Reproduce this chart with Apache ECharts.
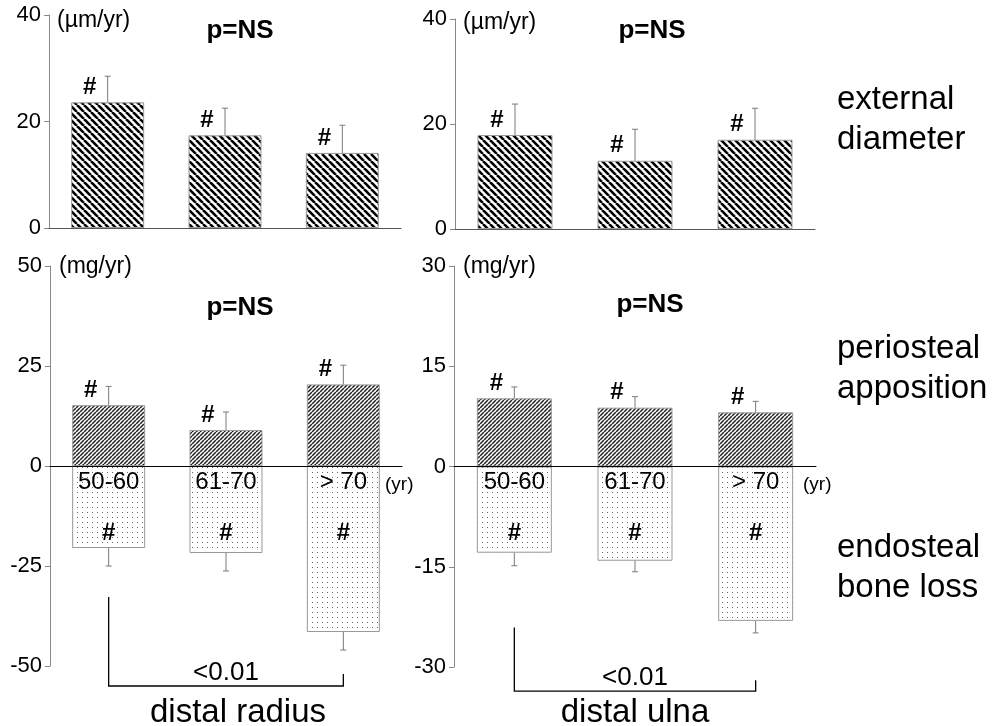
<!DOCTYPE html>
<html>
<head>
<meta charset="utf-8">
<script src="https://cdn.jsdelivr.net/npm/echarts@6/dist/echarts.min.js"></script>
<style>
  html, body { margin: 0; padding: 0; background: #fff; }
  #main { width: 1006px; height: 726px; }
</style>
</head>
<body>
<div id="main"></div>
<script>
// 年龄组
const ageGroups = ['50-60', '61-70', '> 70'];

// 外径 (µm/yr) - 桡骨 / 尺骨
const radiusDiameter = [23.6, 17.4, 14.1];
const radiusDiameterSd = [4.9, 5.1, 5.2];
const ulnaDiameter = [17.9, 13.0, 17.0];
const ulnaDiameterSd = [5.9, 6.0, 6.0];

// 骨膜增加 (mg/yr)
const radiusPeriosteal = [15.2, 9.0, 20.4];
const radiusPeriostealSd = [4.7, 4.5, 4.8];
const ulnaPeriosteal = [10.2, 8.8, 8.1];
const ulnaPeriostealSd = [1.7, 1.65, 1.65];

// 骨内膜丢失 (mg/yr)
const radiusEndosteal = [-20.5, -21.75, -41.5];
const radiusEndostealSd = [4.5, 4.5, 4.5];
const ulnaEndosteal = [-12.9, -14.1, -23.1];
const ulnaEndostealSd = [1.95, 1.65, 1.8];

// 比较括号 (50-60 vs >70), 数值单位
const radiusBracket = { leftTop: -32.75, rightTop: -52, base: -55 };
const ulnaBracket = { leftTop: -24.1, rightTop: -32, base: -33.6 };

const FONT = "'Liberation Sans', Arial, sans-serif";

// 填充图案
function makeTile(size, draw) {
  const c = document.createElement('canvas');
  c.width = size;
  c.height = size;
  const ctx = c.getContext('2d');
  ctx.fillStyle = '#fff';
  ctx.fillRect(0, 0, size, size);
  draw(ctx, size);
  return c;
}

// 宽斜线 "\"
const wideHatch = makeTile(7, (ctx, s) => {
  ctx.strokeStyle = '#000';
  ctx.lineWidth = 2.6;
  for (let k = -1; k <= 1; k++) {
    ctx.beginPath();
    ctx.moveTo(k * s, 0);
    ctx.lineTo(k * s + s, s);
    ctx.stroke();
  }
});

// 密斜线 "/"
const denseHatch = makeTile(4, (ctx, s) => {
  ctx.strokeStyle = '#222';
  ctx.lineWidth = 1.5;
  for (let k = -1; k <= 1; k++) {
    ctx.beginPath();
    ctx.moveTo(k * s, s);
    ctx.lineTo(k * s + s, 0);
    ctx.stroke();
  }
});

// 点
const dots = makeTile(5, (ctx) => {
  ctx.fillStyle = '#666';
  ctx.fillRect(2, 2, 1, 1);
});

function pattern(img) {
  return { image: img, repeat: 'repeat' };
}

// 误差线
function errorSeries(idx, values, sds, sign) {
  return {
    type: 'custom',
    xAxisIndex: idx,
    yAxisIndex: idx,
    z: 3,
    silent: true,
    data: values.map((v, i) => [i, v, sds[i]]),
    renderItem(params, api) {
      const v = api.value(1);
      const e = api.value(2) * sign;
      const p0 = api.coord([api.value(0), v]);
      const p1 = api.coord([api.value(0), v + e]);
      const style = { stroke: '#7a7a7a', lineWidth: 1 };
      return {
        type: 'group',
        children: [
          { type: 'line', shape: { x1: p0[0], y1: p0[1], x2: p1[0], y2: p1[1] }, style },
          { type: 'line', shape: { x1: p1[0] - 3, y1: p1[1], x2: p1[0] + 3, y2: p1[1] }, style }
        ]
      };
    }
  };
}

// 年龄标签 + 负值柱内的 "#"
function ageLabelSeries(idx) {
  return {
    type: 'custom',
    xAxisIndex: idx,
    yAxisIndex: idx,
    z: 10,
    silent: true,
    data: ageGroups.map((g, i) => [i, 0]),
    renderItem(params, api) {
      const p = api.coord([api.value(0), 0]);
      return {
        type: 'group',
        children: [
          {
            type: 'text',
            x: p[0], y: p[1] + 16,
            style: {
              text: ageGroups[params.dataIndex],
              fontFamily: FONT, fontSize: 24, fill: '#000',
              align: 'center', verticalAlign: 'middle'
            }
          },
          {
            type: 'text',
            x: p[0], y: p[1] + 67,
            style: {
              text: '#',
              fontFamily: FONT, fontSize: 24, fontWeight: 'bold', fill: '#000',
              align: 'center', verticalAlign: 'middle'
            }
          }
        ]
      };
    }
  };
}

function barSeries(idx, values, img, width, hashLabel) {
  return {
    type: 'bar',
    xAxisIndex: idx,
    yAxisIndex: idx,
    barWidth: width,
    barGap: '-100%',
    data: values,
    itemStyle: {
      color: pattern(img),
      borderColor: '#999',
      borderWidth: 1
    },
    label: {
      show: hashLabel,
      position: 'top',
      formatter: '#',
      offset: [-18, 2],
      fontFamily: FONT,
      fontWeight: 'bold',
      fontSize: 24,
      color: '#000'
    }
  };
}

const grids = [
  { left: 49, top: 15, width: 352, height: 213 },
  { left: 455, top: 19, width: 360, height: 210 },
  { left: 50, top: 266, width: 352, height: 400 },
  { left: 454, top: 266, width: 362, height: 401 }
].map(g => Object.assign({ outerBoundsMode: 'none', containLabel: false }, g));

const yRanges = [
  { min: 0, max: 40, interval: 20 },
  { min: 0, max: 40, interval: 20 },
  { min: -50, max: 50, interval: 25 },
  { min: -30, max: 30, interval: 15 }
];

const xAxes = grids.map((g, i) => ({
  type: 'category',
  gridIndex: i,
  data: ageGroups,
  z: 10,
  axisLine: { onZero: true, lineStyle: { color: i >= 2 ? '#000' : '#555', width: 1 } },
  axisTick: { show: false },
  axisLabel: { show: false }
}));

const yAxes = yRanges.map((r, i) => ({
  type: 'value',
  gridIndex: i,
  min: r.min,
  max: r.max,
  interval: r.interval,
  splitLine: { show: false },
  axisLine: { show: true, onZero: false, lineStyle: { color: '#888' } },
  axisTick: { show: true, length: 5, lineStyle: { color: '#888' } },
  axisLabel: {
    margin: 8,
    color: '#000',
    fontFamily: FONT,
    fontSize: 22
  }
}));

const series = [
  barSeries(0, radiusDiameter, wideHatch, 73, true),
  errorSeries(0, radiusDiameter, radiusDiameterSd, 1),
  barSeries(1, ulnaDiameter, wideHatch, 75, true),
  errorSeries(1, ulnaDiameter, ulnaDiameterSd, 1),
  barSeries(2, radiusPeriosteal, denseHatch, 73, true),
  barSeries(2, radiusEndosteal, dots, 73, false),
  errorSeries(2, radiusPeriosteal, radiusPeriostealSd, 1),
  errorSeries(2, radiusEndosteal, radiusEndostealSd, -1),
  ageLabelSeries(2),
  barSeries(3, ulnaPeriosteal, denseHatch, 75, true),
  barSeries(3, ulnaEndosteal, dots, 75, false),
  errorSeries(3, ulnaPeriosteal, ulnaPeriostealSd, 1),
  errorSeries(3, ulnaEndosteal, ulnaEndostealSd, -1),
  ageLabelSeries(3)
];

const chart = echarts.init(document.getElementById('main'), null, { renderer: 'canvas' });

chart.setOption({
  animation: false,
  backgroundColor: '#fff',
  grid: grids,
  xAxis: xAxes,
  yAxis: yAxes,
  series
});

// 文字
function text(x, y, str, opt) {
  return {
    type: 'text',
    x, y,
    silent: true,
    style: Object.assign({
      text: str,
      fontFamily: FONT,
      fontSize: 22,
      fill: '#000',
      align: 'left',
      verticalAlign: 'middle'
    }, opt || {})
  };
}

// 括号 (由坐标换算)
function bracket(gridIndex, b) {
  const pL = chart.convertToPixel({ gridIndex }, [0, b.leftTop]);
  const pR = chart.convertToPixel({ gridIndex }, [2, b.rightTop]);
  const pB = chart.convertToPixel({ gridIndex }, [0, b.base]);
  return {
    type: 'polyline',
    silent: true,
    shape: { points: [[pL[0], pL[1]], [pL[0], pB[1]], [pR[0], pB[1]], [pR[0], pR[1]]] },
    style: { stroke: '#000', lineWidth: 1.3, fill: null }
  };
}

const mid0 = chart.convertToPixel({ gridIndex: 2 }, [1, 0]);
const mid1 = chart.convertToPixel({ gridIndex: 3 }, [1, 0]);
const bR = chart.convertToPixel({ gridIndex: 2 }, [1, radiusBracket.base]);
const bU = chart.convertToPixel({ gridIndex: 3 }, [1, ulnaBracket.base]);

const bold = { fontWeight: 'bold', fontSize: 26, align: 'center' };
const side = { fontSize: 33, lineHeight: 40 };

chart.setOption({
  graphic: [
    text(57, 21, '(\u00b5m/yr)', { fontSize: 23 }),
    text(463, 23, '(\u00b5m/yr)', { fontSize: 23 }),
    text(59, 267, '(mg/yr)', { fontSize: 23 }),
    text(463, 267, '(mg/yr)', { fontSize: 23 }),
    text(240, 31, 'p=NS', bold),
    text(652, 31, 'p=NS', bold),
    text(240, 308, 'p=NS', bold),
    text(650, 305, 'p=NS', bold),
    text(385, 485, '(yr)', { fontSize: 19 }),
    text(803, 485, '(yr)', { fontSize: 19 }),
    text(837, 120, 'external\ndiameter', side),
    text(837, 369, 'periosteal\napposition', side),
    text(837, 568, 'endosteal\nbone loss', side),
    bracket(2, radiusBracket),
    bracket(3, ulnaBracket),
    text(mid0[0], bR[1] - 13, '<0.01', { fontSize: 26, align: 'center' }),
    text(mid1[0], bU[1] - 13, '<0.01', { fontSize: 26, align: 'center' }),
    text(mid0[0] + 12, 713, 'distal radius', { fontSize: 33, align: 'center' }),
    text(mid1[0], 713, 'distal ulna', { fontSize: 33, align: 'center' })
  ]
});
</script>
</body>
</html>
